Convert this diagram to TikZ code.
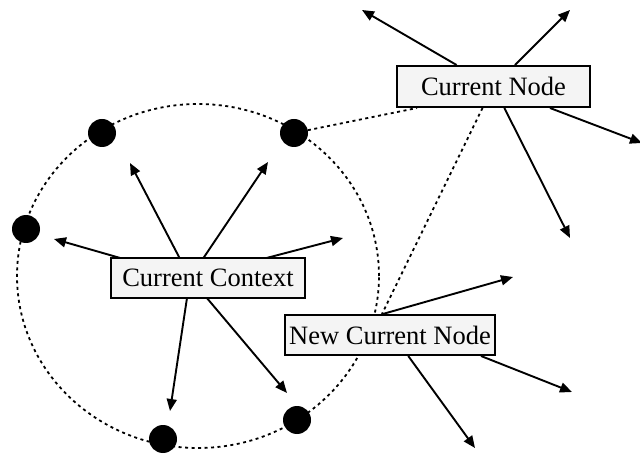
\documentclass[tikz,border=0pt]{standalone}
\usepackage{fontspec}
\setmainfont{Liberation Serif}
\usetikzlibrary{arrows.meta}
\tikzset{
  lbl/.style={draw=black, line width=2pt, fill=gray!9, inner sep=0pt,
    font=\fontsize{26.5}{30}\selectfont},
  blob/.style={circle, fill=black, minimum size=28pt, inner sep=0pt},
  dotline/.style={line width=1.8pt, dash pattern=on 3pt off 3.5pt},
  arr/.style={line width=1.9pt, -{Triangle[length=12pt,width=10pt]}}
}
\begin{document}
\begin{tikzpicture}[x=1pt,y=-1pt]
\useasboundingbox (0,0) rectangle (640,454);
\clip (0,0) rectangle (640,454);

% dashed context circle
\draw[dotline] (198,276) ellipse [x radius=181pt, y radius=172pt];

% member nodes on the circle
\node[blob] (d1) at (26,229) {};
\node[blob] (d2) at (102,133) {};
\node[blob] (d3) at (294,133) {};
\node[blob] (d4) at (163,439) {};
\node[blob] (d5) at (297,420) {};

% arrows radiating from the current context
\coordinate (ccO) at (190,278);
\coordinate (ca1) at (130,163);
\coordinate (ca2) at (268,162);
\coordinate (ca3) at (54,239);
\coordinate (ca4) at (343,238);
\coordinate (ca5) at (170,411);
\coordinate (ca6) at (287,393);
\foreach \t in {ca1,ca2,ca3,ca4,ca5,ca6} \draw[arr] (ccO) -- (\t);

\node[lbl, minimum width=194pt, minimum height=40pt] (cc) at (208,278) {Current Context};

% current node and its links
\node[lbl, minimum width=193pt, minimum height=41pt] (cn) at (493.5,86.5) {Current Node};
\coordinate (cb1) at (362,10);
\coordinate (cb2) at (570,10);
\coordinate (cb3) at (642,143);
\coordinate (cb4) at (570,238);
\foreach \t in {cb1,cb2,cb3,cb4} \draw[arr] (cn) -- (\t);

% new current node and its links
\node[lbl, minimum width=210pt, minimum height=40pt] (ncn) at (390,335) {New Current Node};
\coordinate (nb1) at (513,277);
\coordinate (nb2) at (572,392);
\coordinate (nb3) at (475,448);
\draw[arr] (ncn.109) -- (nb1);
\draw[arr] (ncn.-13) -- (nb2);
\draw[arr] (ncn.-49) -- (nb3);

% dotted links
\draw[dotline] (d3) -- ([xshift=21pt]cn.south west);
\draw[dotline] ([xshift=-11pt]cn.south) -- ([xshift=-8pt]ncn.north);
\end{tikzpicture}
\end{document}
